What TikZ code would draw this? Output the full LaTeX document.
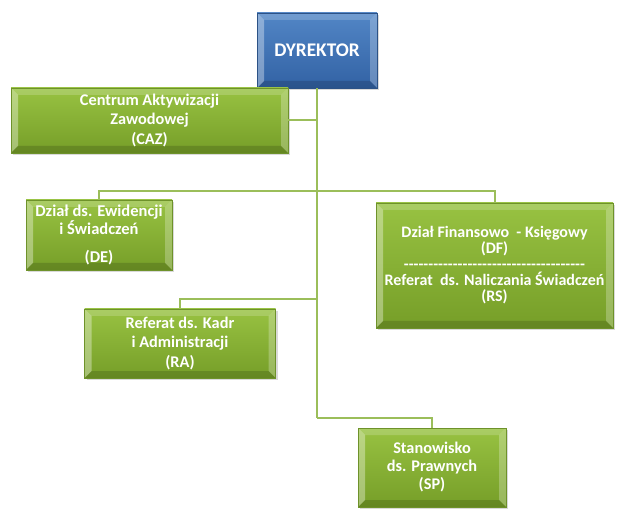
\documentclass[tikz,border=0pt]{standalone}
\usepackage{fontspec}
\setmainfont{Carlito}
\usetikzlibrary{positioning,shadows}
\definecolor{unitgreen}{RGB}{152,194,66}
\definecolor{unitgreendark}{RGB}{118,158,40}
\definecolor{unitedge}{RGB}{110,146,42}
\definecolor{headblue}{RGB}{82,134,198}
\definecolor{headbluedark}{RGB}{50,98,164}
\definecolor{headedge}{RGB}{44,82,134}
\definecolor{linkgreen}{RGB}{155,190,90}
\newcommand{\hyrow}[1]{\foreach \i in {1,...,#1}{-\kern0pt}}
\tikzset{
  bevel/.style={path picture={
    \fill[white,opacity=0.35] (path picture bounding box.north west) -- ([xshift=7pt,yshift=-7pt]path picture bounding box.north west) -- ([xshift=7pt,yshift=7pt]path picture bounding box.south west) -- (path picture bounding box.south west) -- cycle;
    \fill[white,opacity=0.25] (path picture bounding box.north east) -- ([xshift=-7pt,yshift=-7pt]path picture bounding box.north east) -- ([xshift=-7pt,yshift=7pt]path picture bounding box.south east) -- (path picture bounding box.south east) -- cycle;
    \fill[white,opacity=0.18] (path picture bounding box.north west) -- (path picture bounding box.north east) -- ([xshift=-7pt,yshift=-7pt]path picture bounding box.north east) -- ([xshift=7pt,yshift=-7pt]path picture bounding box.north west) -- cycle;
    \fill[black,opacity=0.15] (path picture bounding box.south west) -- (path picture bounding box.south east) -- ([xshift=-7pt,yshift=7pt]path picture bounding box.south east) -- ([xshift=7pt,yshift=7pt]path picture bounding box.south west) -- cycle;
  }},
  unitbox/.style={draw=unitedge, line width=0.8pt, top color=unitgreen, bottom color=unitgreendark, bevel, drop shadow={shadow xshift=2pt, shadow yshift=-2pt, opacity=0.3}, text=white, align=center, inner sep=1pt, font=\fontsize{16.3}{19.5}\selectfont\bfseries},
  headbox/.style={draw=headedge, line width=0.8pt, top color=headblue, bottom color=headbluedark, bevel, drop shadow={shadow xshift=2pt, shadow yshift=-2pt, opacity=0.3}, text=white, align=center, font=\fontsize{19.3}{23}\selectfont\bfseries},
  link/.style={draw=linkgreen, line width=2pt}
}
\begin{document}
\begin{tikzpicture}[x=1pt, y=-1pt]
  \useasboundingbox (0,0) rectangle (618,526);
  % kierownictwo
  \node[headbox, minimum width=120pt, minimum height=75pt] (dyr) at (317,50.5) {DYREKTOR};
  % komorki
  \node[unitbox, minimum width=277pt, minimum height=65pt] (caz) at (149.5,120.5) {Centrum Aktywizacji\\ Zawodowej\\ (CAZ)};
  \node[unitbox, minimum width=146pt, minimum height=70pt, font=\fontsize{16.5}{15}\selectfont\bfseries] (de) at (99,235) {Dział ds. Ewidencji\\ i Świadczeń\\[13pt] (DE)};
  \node[unitbox, minimum width=237pt, minimum height=125pt, font=\fontsize{16}{16}\selectfont\bfseries] (df) at (494.5,265.5) {Dział Finansowo~ - Księgowy\\ (DF)\\ \hyrow{37}\\ Referat~ ds. Naliczania Świadczeń\\ (RS)};
  \node[unitbox, minimum width=191pt, minimum height=69pt] (ra) at (180,343.5) {Referat ds. Kadr\\ i Administracji\\ (RA)};
  \node[unitbox, minimum width=148pt, minimum height=79pt, font=\fontsize{16.3}{18}\selectfont\bfseries] (sp) at (432,467.5) {Stanowisko\\ ds. Prawnych\\ (SP)};
  % polaczenia
  \coordinate (b1) at (317,191);
  \coordinate (b2) at (317,299);
  \coordinate (b3) at (317,418);
  \draw[link] (dyr.south) -- (b3);
  \draw[link] (caz.east) -- (caz.east -| dyr.south);
  \draw[link] (b1) -| (de.north);
  \draw[link] (b1) -| (df.north);
  \draw[link] (b2) -| (ra.north);
  \draw[link] (b3) -| (sp.north);
\end{tikzpicture}
\end{document}
